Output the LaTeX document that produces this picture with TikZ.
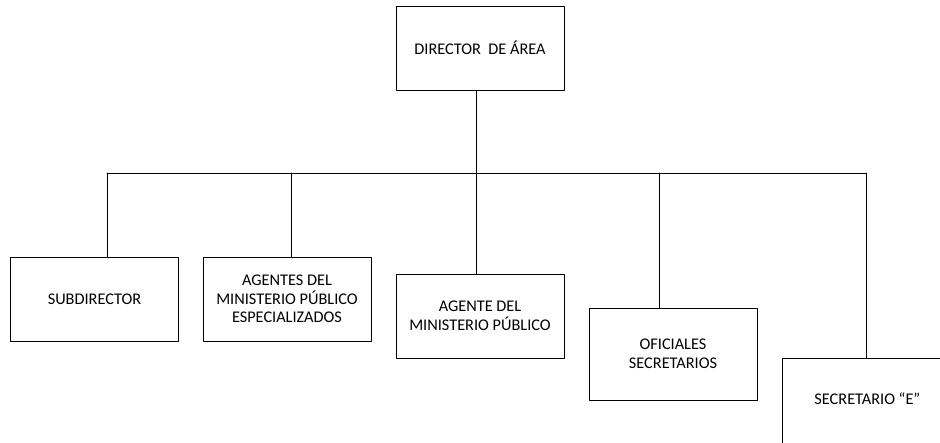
\documentclass[tikz,border=0pt]{standalone}
\usepackage{fontspec}
\setmainfont{Carlito}

\begin{document}
\begin{tikzpicture}[line cap=round,line join=round,x=1pt,y=-1pt,
		cargo/.style={draw,line width=0.8pt,align=center,inner sep=2pt,
			minimum width=168pt,minimum height=84pt,
			font=\fontsize{16.3}{18.7}\selectfont},
		enlace/.style={line width=0.8pt}]
		\useasboundingbox (0,0) rectangle (940,442);
		\clip (0,0) rectangle (940,442);
		% cajas
		\node[cargo] (dir) at (480,48) {DIRECTOR\ \ DE ÁREA};
		\node[cargo] (sub) at (94.5,299) {SUBDIRECTOR};
		\node[cargo] (esp) at (287,299) {AGENTES DEL\\MINISTERIO PÚBLICO\\ESPECIALIZADOS};
		\node[cargo] (amp) at (480,316) {AGENTE DEL\\MINISTERIO PÚBLICO};
		\node[cargo,minimum height=92pt] (ofi) at (673,354) {OFICIALES\\SECRETARIOS};
		\node[cargo,anchor=north west,minimum width=170pt,minimum height=100pt,
			text depth=20pt] (sec) at (782,358) {SECRETARIO “E”};
		% lineas
		\coordinate (busL) at (107,173);
		\coordinate (busR) at (866,173);
		\draw [enlace] (busL) -- (busR);
		\draw [enlace] ([xshift=-4pt]dir.south) -- ([xshift=-4pt]dir.south |- busL);
		\draw [enlace] (sub.north -| busL) -- (busL);
		\draw [enlace] ([xshift=4pt]esp.north) -- ([xshift=4pt]esp.north |- busL);
		\draw [enlace] ([xshift=-4pt]amp.north) -- ([xshift=-4pt]amp.north |- busL);
		\draw [enlace] ([xshift=-14pt]ofi.north) -- ([xshift=-14pt]ofi.north |- busL);
		\draw [enlace] (sec.north -| busR) -- (busR);
	\end{tikzpicture}
\end{document}
